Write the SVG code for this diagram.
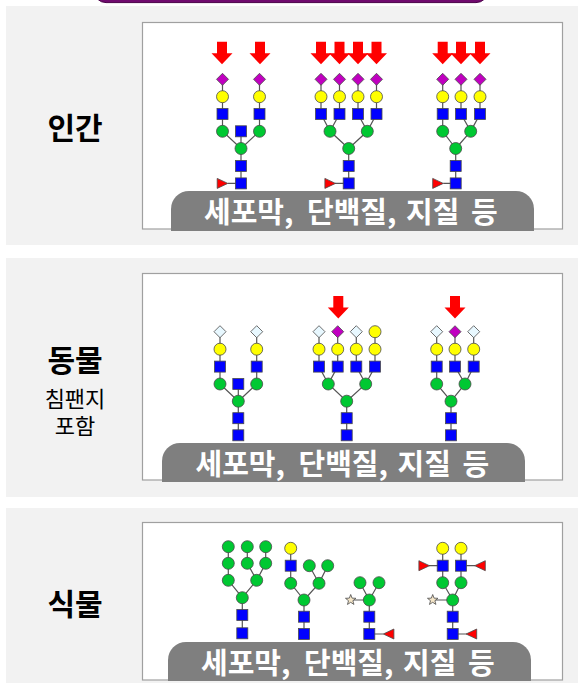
<svg xmlns="http://www.w3.org/2000/svg" width="578" height="683" viewBox="0 0 578 683">
  <style>
    .panel { fill: #F2F2F2; }
    .box { fill: #FFFFFF; stroke: #A0A0A0; stroke-width: 1.2; }
    .bar { fill: #7F7F7F; }
    .barText { font-family: "Noto Sans CJK KR", "Noto Sans", sans-serif; font-weight: bold; font-size: 29px; fill: #FFFFFF; }
    .title { font-family: "Noto Sans CJK KR", "Noto Sans", sans-serif; font-weight: bold; font-size: 30px; fill: #000000; text-anchor: middle; }
    .sub { font-family: "Liberation Sans", "Noto Sans CJK KR", sans-serif; font-size: 22px; fill: #000000; text-anchor: middle; }
    .bond { fill: none; stroke: #555555; stroke-width: 1.2; }
    .res { stroke: #4A4A4A; stroke-width: 0.8; }
    .glcnac { fill: #0000FF; }
    .man { fill: #00C832; }
    .gal { fill: #FFFF00; }
    .neu5ac { fill: #C000C0; }
    .neu5gc { fill: #E8F8FF; }
    .fuc { fill: #FF0000; }
    .xyl { fill: #F5E6C8; }
    .arrow { fill: #FF0000; }
  </style>
  <defs>
    <rect id="sq" class="res glcnac" x="-5.5" y="-5.5" width="11" height="11"/>
    <circle id="gr" class="res man" r="6"/>
    <circle id="ye" class="res gal" r="6"/>
    <path id="dp" class="res neu5ac" d="M0,-6 L6,0 L0,6 L-6,0 Z"/>
    <path id="dw" class="res neu5gc" d="M0,-6 L6,0 L0,6 L-6,0 Z"/>
    <path id="tr" class="res fuc" d="M-5.3,-5 L5.3,0 L-5.3,5 Z"/>
    <path id="tl" class="res fuc" d="M5.3,-5 L-5.3,0 L5.3,5 Z"/>
    <path id="st" class="res xyl" d="M0,-5.5 L1.35,-1.86 L5.23,-1.7 L2.19,0.71 L3.23,4.45 L0,2.3 L-3.23,4.45 L-2.19,0.71 L-5.23,-1.7 L-1.35,-1.86 Z"/>
    <path id="ar" class="arrow" d="M-5,0 H5 V11.5 H10.5 L0,22.6 L-10.5,11.5 H-5 Z"/>
  </defs>

  <!-- header strip -->
  <rect x="94" y="-30" width="394" height="32.6" rx="12" fill="#700A6E" stroke="#4A0048" stroke-width="1"/>

  <!-- panels -->
  <g id="panel-human">
    <rect class="panel" x="6" y="6" width="572" height="239"/>
    <rect class="box" x="142.5" y="22.5" width="420" height="206.5"/>
    <text class="title" x="75" y="138.5">인간</text>
  </g>
  <g id="panel-animal">
    <rect class="panel" x="6" y="258" width="572" height="239"/>
    <rect class="box" x="142.5" y="273.5" width="420" height="206.5"/>
    <text class="title" x="75" y="371">동물</text>
    <text class="sub" x="75" y="407">침팬지</text>
    <text class="sub" x="75" y="434">포함</text>
  </g>
  <g id="panel-plant">
    <rect class="panel" x="6" y="508" width="572" height="180"/>
    <rect class="box" x="142.5" y="522.5" width="420" height="157.5"/>
    <text class="title" x="75" y="615">식물</text>
  </g>

  <!-- bonds between residues -->
  <g id="connectors" class="bond">
    <path d="M222.5,79.3 V131.3 L241,148.5 M259.5,79.3 V131.3 L241,148.5 M241,131.3 V183.4 M228,183.4 H241"/>
    <path d="M321,79.3 V114 L330,131.3 M339.5,79.3 V114 L330,131.3 L348.7,148.5 M358,79.3 V114 L367.3,131.3 M376.5,79.3 V114 L367.3,131.3 L348.7,148.5 M348.7,148.5 V183.4 M335,183.4 H348.7"/>
    <path d="M442.7,79.3 V131.3 L455.7,148.5 M461,79.3 V114 L470.7,131.3 M480,79.3 V114 L470.7,131.3 L455.7,148.5 M455.7,148.5 V183.4 M443.3,183.4 H455.7"/>
    <path d="M220,331.7 V384 L238.3,401.2 M256.7,331.7 V384 L238.3,401.2 M238.3,384 V435.3"/>
    <path d="M319,331.7 V366.6 L328.3,384 M337.7,331.7 V366.6 L328.3,384 L346.7,401.2 M356.3,331.7 V366.6 L365.7,384 M375,331.7 V366.6 L365.7,384 L346.7,401.2 M346.7,401.2 V435.3"/>
    <path d="M436.7,331.7 V384 L451,401.2 M455,331.7 V366.6 L465,384 M473.7,331.7 V366.6 L465,384 L451,401.2 M451,401.2 V435.3"/>
    <path d="M228.3,546.7 V580.3 L242.3,597.7 M247.3,546.7 V563.3 L256.7,580.3 M265.7,546.7 V563.3 L256.7,580.3 L242.3,597.7 M242.3,597.7 V633.3"/>
    <path d="M290.7,548.3 V583.3 L304,600 M309.3,565.7 L319,583.3 M327.7,565.7 L319,583.3 L304,600 M304,600 V634"/>
    <path d="M360,582.7 L369.3,600 M379,582.7 L369.3,600 M350.7,600 H369.3 V634 M369.3,634 H383.3"/>
    <path d="M442.7,548.3 V582.7 L452.7,600 M461,548.3 V582.7 L452.7,600 M429,565.7 H442.7 M461,565.7 H475 M432.7,600 H452.7 V634 M452.7,634 H466.7"/>
  </g>

  <!-- human glycans -->
  <g id="human-biantennary">
    <use href="#ar" x="222" y="41.7"/><use href="#ar" x="260" y="41.7"/>
    <use href="#dp" x="222.5" y="79.3"/><use href="#dp" x="259.5" y="79.3"/>
    <use href="#ye" x="222.5" y="96.7"/><use href="#ye" x="259.5" y="96.7"/>
    <use href="#sq" x="222.5" y="114"/><use href="#sq" x="259.5" y="114"/>
    <use href="#gr" x="222.5" y="131.3"/><use href="#gr" x="259.5" y="131.3"/>
    <use href="#sq" x="241" y="131.3"/>
    <use href="#gr" x="241" y="148.5"/>
    <use href="#sq" x="241" y="166"/><use href="#sq" x="241" y="183.4"/>
    <use href="#tr" x="222.5" y="183.4"/>
  </g>
  <g id="human-tetraantennary">
    <use href="#ar" x="321" y="41.7"/><use href="#ar" x="339.5" y="41.7"/><use href="#ar" x="358" y="41.7"/><use href="#ar" x="376.5" y="41.7"/>
    <use href="#dp" x="321" y="79.3"/><use href="#dp" x="339.5" y="79.3"/><use href="#dp" x="358" y="79.3"/><use href="#dp" x="376.5" y="79.3"/>
    <use href="#ye" x="321" y="96.7"/><use href="#ye" x="339.5" y="96.7"/><use href="#ye" x="358" y="96.7"/><use href="#ye" x="376.5" y="96.7"/>
    <use href="#sq" x="321" y="114"/><use href="#sq" x="339.5" y="114"/><use href="#sq" x="358" y="114"/><use href="#sq" x="376.5" y="114"/>
    <use href="#gr" x="330" y="131.3"/><use href="#gr" x="367.3" y="131.3"/>
    <use href="#gr" x="348.7" y="148.5"/>
    <use href="#sq" x="348.7" y="166"/><use href="#sq" x="348.7" y="183.4"/>
    <use href="#tr" x="330.2" y="183.4"/>
  </g>
  <g id="human-triantennary">
    <use href="#ar" x="442.7" y="41.7"/><use href="#ar" x="461" y="41.7"/><use href="#ar" x="480" y="41.7"/>
    <use href="#dp" x="442.7" y="79.3"/><use href="#dp" x="461" y="79.3"/><use href="#dp" x="480" y="79.3"/>
    <use href="#ye" x="442.7" y="96.7"/><use href="#ye" x="461" y="96.7"/><use href="#ye" x="480" y="96.7"/>
    <use href="#sq" x="442.7" y="114"/><use href="#sq" x="461" y="114"/><use href="#sq" x="480" y="114"/>
    <use href="#gr" x="442.7" y="131.3"/><use href="#gr" x="470.7" y="131.3"/>
    <use href="#gr" x="455.7" y="148.5"/>
    <use href="#sq" x="455.7" y="166"/><use href="#sq" x="455.7" y="183.4"/>
    <use href="#tr" x="438" y="183.4"/>
  </g>

  <!-- animal glycans -->
  <g id="animal-biantennary">
    <use href="#dw" x="220" y="331.7"/><use href="#dw" x="256.7" y="331.7"/>
    <use href="#ye" x="220" y="349.2"/><use href="#ye" x="256.7" y="349.2"/>
    <use href="#sq" x="220" y="366.6"/><use href="#sq" x="256.7" y="366.6"/>
    <use href="#gr" x="220" y="384"/><use href="#gr" x="256.7" y="384"/>
    <use href="#sq" x="238.3" y="384"/>
    <use href="#gr" x="238.3" y="401.2"/>
    <use href="#sq" x="238.3" y="418.2"/><use href="#sq" x="238.3" y="435.3"/>
  </g>
  <g id="animal-tetraantennary">
    <use href="#ar" x="338.3" y="296"/>
    <use href="#dw" x="319" y="331.7"/><use href="#dp" x="337.7" y="331.7"/><use href="#dw" x="356.3" y="331.7"/><use href="#ye" x="375" y="331.7"/>
    <use href="#ye" x="319" y="349.2"/><use href="#ye" x="337.7" y="349.2"/><use href="#ye" x="356.3" y="349.2"/><use href="#ye" x="375" y="349.2"/>
    <use href="#sq" x="319" y="366.6"/><use href="#sq" x="337.7" y="366.6"/><use href="#sq" x="356.3" y="366.6"/><use href="#sq" x="375" y="366.6"/>
    <use href="#gr" x="328.3" y="384"/><use href="#gr" x="365.7" y="384"/>
    <use href="#gr" x="346.7" y="401.2"/>
    <use href="#sq" x="346.7" y="418.2"/><use href="#sq" x="346.7" y="435.3"/>
  </g>
  <g id="animal-triantennary">
    <use href="#ar" x="455" y="296"/>
    <use href="#dw" x="436.7" y="331.7"/><use href="#dp" x="455" y="331.7"/><use href="#dw" x="473.7" y="331.7"/>
    <use href="#ye" x="436.7" y="349.2"/><use href="#ye" x="455" y="349.2"/><use href="#ye" x="473.7" y="349.2"/>
    <use href="#sq" x="436.7" y="366.6"/><use href="#sq" x="455" y="366.6"/><use href="#sq" x="473.7" y="366.6"/>
    <use href="#gr" x="436.7" y="384"/><use href="#gr" x="465" y="384"/>
    <use href="#gr" x="451" y="401.2"/>
    <use href="#sq" x="451" y="418.2"/><use href="#sq" x="451" y="435.3"/>
  </g>

  <!-- plant glycans -->
  <g id="plant-high-mannose">
    <use href="#gr" x="228.3" y="546.7"/><use href="#gr" x="247.3" y="546.7"/><use href="#gr" x="265.7" y="546.7"/>
    <use href="#gr" x="228.3" y="563.3"/><use href="#gr" x="247.3" y="563.3"/><use href="#gr" x="265.7" y="563.3"/>
    <use href="#gr" x="228.3" y="580.3"/><use href="#gr" x="256.7" y="580.3"/>
    <use href="#gr" x="242.3" y="597.7"/>
    <use href="#sq" x="242.3" y="615"/><use href="#sq" x="242.3" y="633.3"/>
  </g>
  <g id="plant-hybrid">
    <use href="#ye" x="290.7" y="548.3"/>
    <use href="#sq" x="290.7" y="565.7"/>
    <use href="#gr" x="309.3" y="565.7"/><use href="#gr" x="327.7" y="565.7"/>
    <use href="#gr" x="290.7" y="583.3"/><use href="#gr" x="319" y="583.3"/>
    <use href="#gr" x="304" y="600"/>
    <use href="#sq" x="304" y="616.7"/><use href="#sq" x="304" y="634"/>
  </g>
  <g id="plant-paucimannose">
    <use href="#gr" x="360" y="582.7"/><use href="#gr" x="379" y="582.7"/>
    <use href="#st" x="350.7" y="600"/>
    <use href="#gr" x="369.3" y="600"/>
    <use href="#sq" x="369.3" y="616.7"/><use href="#sq" x="369.3" y="634"/>
    <use href="#tl" x="388.6" y="634"/>
  </g>
  <g id="plant-complex">
    <use href="#ye" x="442.7" y="548.3"/><use href="#ye" x="461" y="548.3"/>
    <use href="#tr" x="424.2" y="565.7"/>
    <use href="#sq" x="442.7" y="565.7"/><use href="#sq" x="461" y="565.7"/>
    <use href="#tl" x="480" y="565.7"/>
    <use href="#gr" x="442.7" y="582.7"/><use href="#gr" x="461" y="582.7"/>
    <use href="#st" x="432.7" y="600"/>
    <use href="#gr" x="452.7" y="600"/>
    <use href="#sq" x="452.7" y="616.7"/><use href="#sq" x="452.7" y="634"/>
    <use href="#tl" x="471.4" y="634"/>
  </g>

  <!-- location captions -->
  <g id="caption-human">
    <path class="bar" d="M171,231 V209 A18,18 0 0 1 189,191 H516 A18,18 0 0 1 534,209 V231 Z"/>
    <text class="barText" y="223"><tspan x="204">세포막,</tspan><tspan x="307">단백질,</tspan><tspan x="406">지질</tspan><tspan x="471">등</tspan></text>
  </g>
  <g id="caption-animal">
    <path class="bar" d="M162,482 V461 A18,18 0 0 1 180,443 H507 A18,18 0 0 1 525,461 V482 Z"/>
    <text class="barText" y="475"><tspan x="195.5">세포막,</tspan><tspan x="298.5">단백질,</tspan><tspan x="397.5">지질</tspan><tspan x="462.5">등</tspan></text>
  </g>
  <g id="caption-plant">
    <path class="bar" d="M168,681 V660 A18,18 0 0 1 186,642 H513 A18,18 0 0 1 531,660 V681 Z"/>
    <text class="barText" y="674"><tspan x="201">세포막,</tspan><tspan x="304">단백질,</tspan><tspan x="403">지질</tspan><tspan x="468">등</tspan></text>
  </g>
</svg>
